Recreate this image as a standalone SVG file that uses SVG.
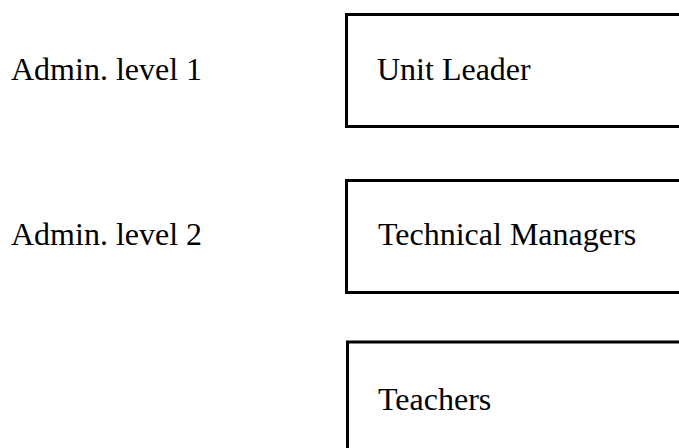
<svg xmlns="http://www.w3.org/2000/svg" width="679" height="448" viewBox="0 0 679 448">
  <style>
    .box { fill: #ffffff; stroke: #000000; stroke-width: 3; }
    .label { font-family: "Liberation Serif", "Times New Roman", serif; font-size: 32px; fill: #000000; }
  </style>
  <rect width="679" height="448" fill="#ffffff"/>
  <g id="level-labels">
    <text class="label" x="11" y="80">Admin. level 1</text>
    <text class="label" x="11" y="245">Admin. level 2</text>
  </g>
  <g id="unit-leader">
    <rect class="box" x="346.5" y="14.5" width="360" height="112"/>
    <text class="label" x="377" y="80">Unit Leader</text>
  </g>
  <g id="technical-managers">
    <rect class="box" x="346.5" y="180.5" width="360" height="112"/>
    <text class="label" x="378" y="245">Technical Managers</text>
  </g>
  <g id="teachers">
    <rect class="box" x="347.5" y="342" width="360" height="112"/>
    <text class="label" x="378" y="410">Teachers</text>
  </g>
  <g id="connectors"></g>
</svg>
